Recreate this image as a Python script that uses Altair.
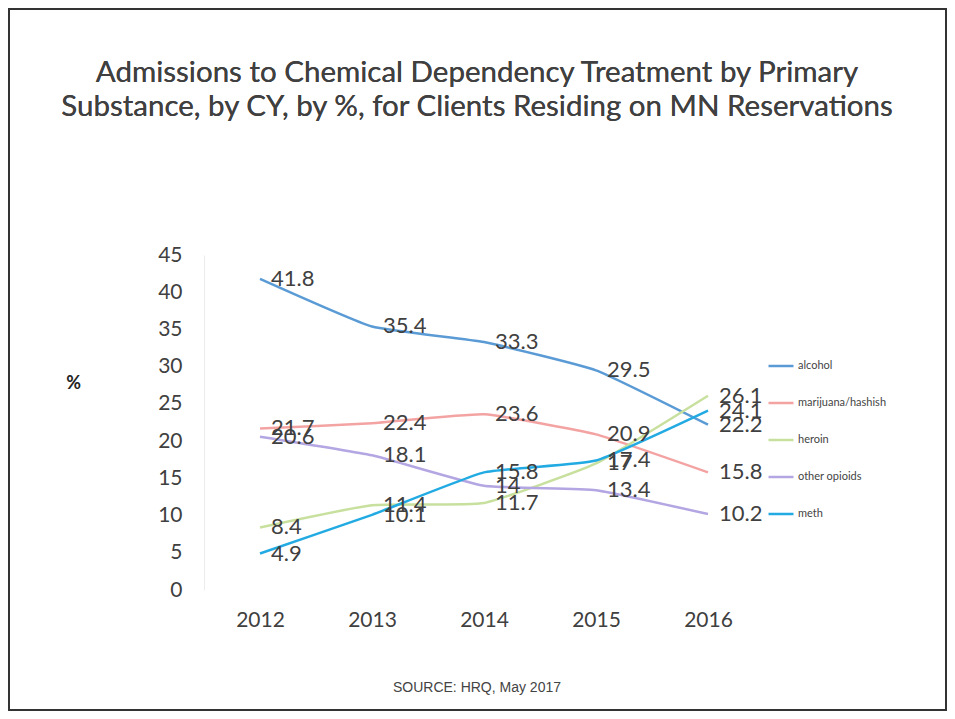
import altair as alt
import pandas as pd

years = ["2012", "2013", "2014", "2015", "2016"]
series_names = ["alcohol", "marijuana/hashish", "heroin", "other opioids", "meth"]
alcohol = [41.8, 35.4, 33.3, 29.5, 22.2]
marijuana = [21.7, 22.4, 23.6, 20.9, 15.8]
heroin = [8.4, 11.4, 11.7, 17, 26.1]
other_opioids = [20.6, 18.1, 14, 13.4, 10.2]
meth = [4.9, 10.1, 15.8, 17.4, 24.1]
colors = ["#5B9BD5", "#F4A3A3", "#C8E09E", "#B3A6E2", "#22AAE2"]
y_ticks = [0, 5, 10, 15, 20, 25, 30, 35, 40, 45]

title_lines = ["Admissions to Chemical Dependency Treatment by Primary",
               "Substance, by CY, by %, for Clients Residing on MN Reservations"]
source_text = "SOURCE: HRQ, May 2017"

rows = []
for name, vals in zip(series_names, [alcohol, marijuana, heroin, other_opioids, meth]):
    for yr, v in zip(years, vals):
        rows.append({"year": yr, "substance": name, "pct": v})
df = pd.DataFrame(rows)

W, H = 560, 335
PAD_L, PAD_T = 196, 247
TOTAL_W, TOTAL_H = 939, 703

x_enc = alt.X("year:O", sort=years, scale=alt.Scale(paddingOuter=0.5),
              axis=alt.Axis(title=None, labelAngle=0, labelFontSize=21, labelColor="#404040",
                            labelFont="Lato", ticks=False, domain=False, labelPadding=19))
y_enc = alt.Y("pct:Q", scale=alt.Scale(domain=[0, 45], nice=False),
              axis=alt.Axis(title="%", titleAngle=0, titleX=-131, titleY=128,
                            titleAlign="center", titleBaseline="middle", titleFontSize=18,
                            titleFont="Lato", titleFontWeight="bold", titleColor="#222",
                            values=y_ticks, labelFontSize=21, labelColor="#404040",
                            labelFont="Lato", ticks=False, grid=False, domainColor="#ececec",
                            labelPadding=22, labelOverlap=False))
color_enc = alt.Color("substance:N", sort=series_names,
                      scale=alt.Scale(domain=series_names, range=colors),
                      legend=alt.Legend(title=None, orient="none", legendX=563, legendY=97,
                                        symbolType="stroke", symbolSize=625, symbolStrokeWidth=2.5,
                                        labelFontSize=11, labelFont="Lato", labelColor="#444",
                                        rowPadding=18, labelOffset=3))

base = alt.Chart(df)
lines = base.mark_line(strokeWidth=2.5, interpolate="cardinal", tension=0.6).encode(
    x=x_enc, y=y_enc, color=color_enc)
labels = base.mark_text(align="left", baseline="middle", dx=11, fontSize=22,
                        font="Lato", color="#404040").encode(
    x=x_enc, y=y_enc, text="pct:Q")

title_df = pd.DataFrame({"t": title_lines})
title = alt.Chart(title_df).mark_text(fontSize=29.5, font="Lato", color="#404040",
                                      align="center", baseline="middle", lineHeight=34).encode(
    x=alt.value(273), y=alt.value(-182), text=alt.value(title_lines))

src_df = pd.DataFrame({"t": [source_text]})
source = alt.Chart(src_df).mark_text(fontSize=14, font="Liberation Sans", color="#444",
                                     align="center", baseline="middle").encode(
    x=alt.value(273), y=alt.value(433), text="t:N")

frame_df = pd.DataFrame({"k": [1]})
frame = alt.Chart(frame_df).mark_rect(fill=None, stroke="#333", strokeWidth=2, clip=False).encode(
    x=alt.value(-PAD_L + 1), x2=alt.value(TOTAL_W - PAD_L - 1),
    y=alt.value(-PAD_T + 1), y2=alt.value(TOTAL_H - PAD_T - 1))

chart = alt.layer(lines, labels, title, source, frame).properties(
    width=W, height=H,
    background="white",
    autosize=alt.AutoSizeParams(type="none"),
    padding={"left": PAD_L, "top": PAD_T, "right": TOTAL_W - PAD_L - W, "bottom": TOTAL_H - PAD_T - H},
).configure_view(stroke=None)

chart.save("out.html", embed_options={"renderer": "svg", "actions": False})
